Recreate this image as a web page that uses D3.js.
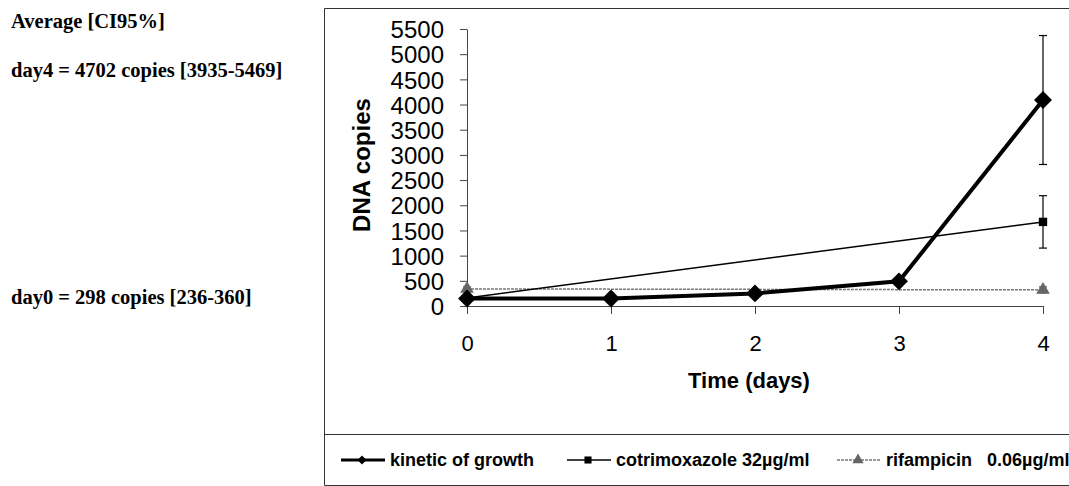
<!DOCTYPE html>
<html lang="en">
<head>
<meta charset="UTF-8">
<title>DNA copies over time</title>
<script src="https://cdn.jsdelivr.net/npm/d3@7"></script>
<style>
  body { margin: 0; background: #fff; }
  svg text { font-family: "Liberation Sans", Arial, sans-serif; fill: #000; }
  .note { font-family: "Liberation Serif", "Times New Roman", serif; font-weight: bold; font-size: 20.5px; }
</style>
</head>
<body>
<svg id="chart" width="1069" height="486"></svg>
<script>
// data
var days = [0, 1, 2, 3, 4];
var growth = [150, 150, 250, 490, 4090];
var growthErr = [30, 40, 40, 60, 1280];
var cotrimDays = [0, 4];
var cotrim = [160, 1670];
var cotrimErr = [0, 520];
var rifDays = [0, 4];
var rif = [340, 320];
var rifErr = [40, 60];
var yTicks = d3.range(0, 5501, 500);
var notes = ["Average [CI95%]", "day4 = 4702 copies [3935-5469]", "day0 = 298 copies [236-360]"];
var legendNames = ["kinetic of growth", "cotrimoxazole 32\u00b5g/ml", "rifampicin   0.06\u00b5g/ml"];

var svg = d3.select("#chart");

// notes on the left
var noteY = [28, 77, 304];
svg.selectAll("text.note").data(notes).enter().append("text")
  .attr("class", "note")
  .attr("x", 11)
  .attr("y", (d, i) => noteY[i])
  .text(d => d);

// chart frame and legend separator
svg.append("path")
  .attr("d", "M1070,8.5H324.5V485.5H1070M324.5,434.5H1070")
  .attr("fill", "none").attr("stroke", "#333").attr("stroke-width", 1);

var x = d3.scaleLinear().domain([0, 4]).range([467, 1043]);
var y = d3.scaleLinear().domain([0, 5500]).range([306, 29]);

var yAxis = svg.append("g").attr("transform", "translate(467,0)")
  .call(d3.axisLeft(y).tickValues(yTicks).tickSize(7).tickSizeOuter(0).tickPadding(16).tickFormat(d3.format("d")));
yAxis.selectAll("text").attr("font-size", 24).attr("dy", "0.36em");

var xAxis = svg.append("g").attr("transform", "translate(0,306)")
  .call(d3.axisBottom(x).tickValues(days).tickSize(8).tickSizeOuter(0).tickPadding(21).tickFormat(d3.format("d")));
xAxis.selectAll("text").attr("font-size", 22);
svg.selectAll(".domain, .tick line").attr("stroke", "#444");

svg.append("text")
  .attr("transform", "translate(370,165) rotate(-90)")
  .attr("text-anchor", "middle")
  .attr("font-size", 24).attr("font-weight", "bold")
  .text("DNA copies");

svg.append("text")
  .attr("x", 749).attr("y", 388)
  .attr("text-anchor", "middle")
  .attr("font-size", 22).attr("font-weight", "bold")
  .text("Time (days)");

var line = d3.line().x(d => x(d[0])).y(d => y(d[1]));

function errorBars(xs, vals, errs, color) {
  var g = svg.append("g").attr("stroke", color).attr("stroke-width", 1.2);
  xs.forEach((d, i) => {
    if (!errs[i]) return;
    var px = x(d), top = y(vals[i] + errs[i]), bot = y(vals[i] - errs[i]);
    g.append("line").attr("x1", px).attr("x2", px).attr("y1", top).attr("y2", bot);
    g.append("line").attr("x1", px - 4).attr("x2", px + 4).attr("y1", top).attr("y2", top);
    g.append("line").attr("x1", px - 4).attr("x2", px + 4).attr("y1", bot).attr("y2", bot);
  });
}

// rifampicin
svg.append("path")
  .attr("d", line(d3.zip(rifDays, rif)))
  .attr("fill", "none").attr("stroke", "#777").attr("stroke-width", 1.5)
  .attr("stroke-dasharray", "3,1");
errorBars(rifDays, rif, rifErr, "#555");
svg.selectAll("path.rif").data(d3.zip(rifDays, rif)).enter().append("path")
  .attr("class", "rif")
  .attr("d", d3.symbol(d3.symbolTriangle, 80))
  .attr("transform", d => `translate(${x(d[0])},${y(d[1])})`)
  .attr("fill", "#666");

// cotrimoxazole
svg.append("path")
  .attr("d", line(d3.zip(cotrimDays, cotrim)))
  .attr("fill", "none").attr("stroke", "#000").attr("stroke-width", 1.5);
errorBars(cotrimDays, cotrim, cotrimErr, "#000");
svg.selectAll("path.cot").data(d3.zip(cotrimDays, cotrim)).enter().append("path")
  .attr("class", "cot")
  .attr("d", d3.symbol(d3.symbolSquare, 70))
  .attr("transform", d => `translate(${x(d[0])},${y(d[1])})`)
  .attr("fill", "#000");

// kinetic of growth
errorBars(days, growth, growthErr, "#000");
svg.append("path")
  .attr("d", line(d3.zip(days, growth)))
  .attr("fill", "none").attr("stroke", "#000").attr("stroke-width", 4);
svg.selectAll("path.gro").data(d3.zip(days, growth)).enter().append("path")
  .attr("class", "gro")
  .attr("d", d3.symbol(d3.symbolSquare, 160))
  .attr("transform", d => `translate(${x(d[0])},${y(d[1])}) rotate(45)`)
  .attr("fill", "#000");

// legend
var legX = [341, 567, 837];
var legStyle = [
  { w: 3, c: "#000", dash: null, sym: d3.symbolSquare, size: 40, rot: 45, f: "#000" },
  { w: 1.5, c: "#000", dash: null, sym: d3.symbolSquare, size: 50, rot: 0, f: "#000" },
  { w: 1.5, c: "#777", dash: "3,1", sym: d3.symbolTriangle, size: 55, rot: 0, f: "#666" }
];
var leg = svg.selectAll("g.leg").data(legendNames).enter().append("g")
  .attr("class", "leg")
  .attr("transform", (d, i) => `translate(${legX[i]},460)`);
leg.append("line").attr("x1", 0).attr("x2", 44)
  .attr("stroke", (d, i) => legStyle[i].c)
  .attr("stroke-width", (d, i) => legStyle[i].w)
  .attr("stroke-dasharray", (d, i) => legStyle[i].dash);
leg.append("path")
  .attr("d", (d, i) => d3.symbol(legStyle[i].sym, legStyle[i].size)())
  .attr("transform", (d, i) => `translate(21,0) rotate(${legStyle[i].rot})`)
  .attr("fill", (d, i) => legStyle[i].f);
leg.append("text")
  .attr("x", 49).attr("y", 6)
  .attr("font-size", 18).attr("font-weight", "bold")
  .style("white-space", "pre")
  .text(d => d);
</script>
</body>
</html>
